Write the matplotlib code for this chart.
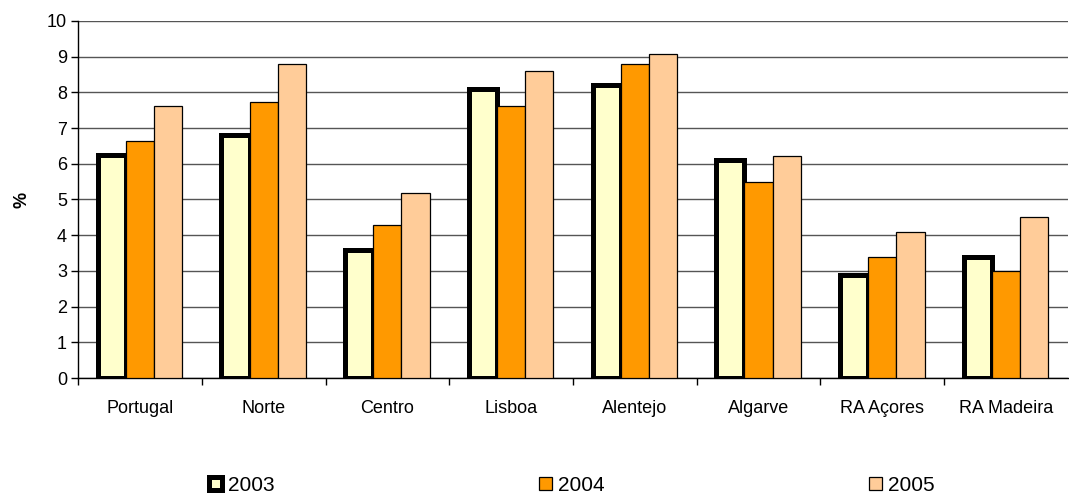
import numpy as np
import matplotlib.pyplot as plt
from matplotlib.ticker import FixedLocator

plt.rcParams['font.family'] = ['Liberation Sans', 'DejaVu Sans']

regions = ['Portugal', 'Norte', 'Centro', 'Lisboa', 'Alentejo', 'Algarve', 'RA Açores', 'RA Madeira']
v2003 = [6.25, 6.8, 3.6, 8.1, 8.2, 6.1, 2.9, 3.4]
v2004 = [6.65, 7.73, 4.3, 7.62, 8.8, 5.48, 3.4, 3.0]
v2005 = [7.62, 8.8, 5.18, 8.6, 9.08, 6.22, 4.08, 4.5]

fig = plt.figure(figsize=(10.69, 4.95), dpi=100)
ax = fig.add_axes([0.073, 0.236, 0.926, 0.722])

x = np.arange(len(regions))
w = 0.228
ax.bar(x - w, v2003, w, color='#FFFFCC', edgecolor='black', linewidth=3.6, label='2003', zorder=3)
ax.bar(x, v2004, w, color='#FF9900', edgecolor='black', linewidth=0.9, label='2004', zorder=3)
ax.bar(x + w, v2005, w, color='#FFCC99', edgecolor='black', linewidth=0.9, label='2005', zorder=3)

ax.set_xlim(-0.5, len(regions) - 0.5)
ax.set_ylim(0, 10)
ax.set_yticks(range(0, 11))
ax.yaxis.grid(True, color='#555555', linewidth=1.0, zorder=0)
ax.set_axisbelow(True)

ax.set_xticks(x)
ax.set_xticklabels(regions)
ax.xaxis.set_minor_locator(FixedLocator(np.arange(-0.5, len(regions) - 0.5, 1.0)))
ax.tick_params(axis='x', which='major', length=0, labelsize=13, pad=16)
ax.tick_params(axis='x', which='minor', length=5, width=1, direction='out')
ax.tick_params(axis='y', length=5, width=1, labelsize=13, pad=3)

for s in ['top', 'right']:
    ax.spines[s].set_visible(False)
ax.spines['left'].set_linewidth(1)
ax.spines['bottom'].set_linewidth(1)

ax.set_ylabel('%', fontweight='bold', fontsize=13, labelpad=12)

fig.legend(loc='center', bbox_to_anchor=(0.535, 0.02), ncol=3, frameon=False,
           fontsize=15, handlelength=0.6, handleheight=0.6, handletextpad=0.3,
           columnspacing=12.7)

fig.savefig('out.png', dpi=100)
